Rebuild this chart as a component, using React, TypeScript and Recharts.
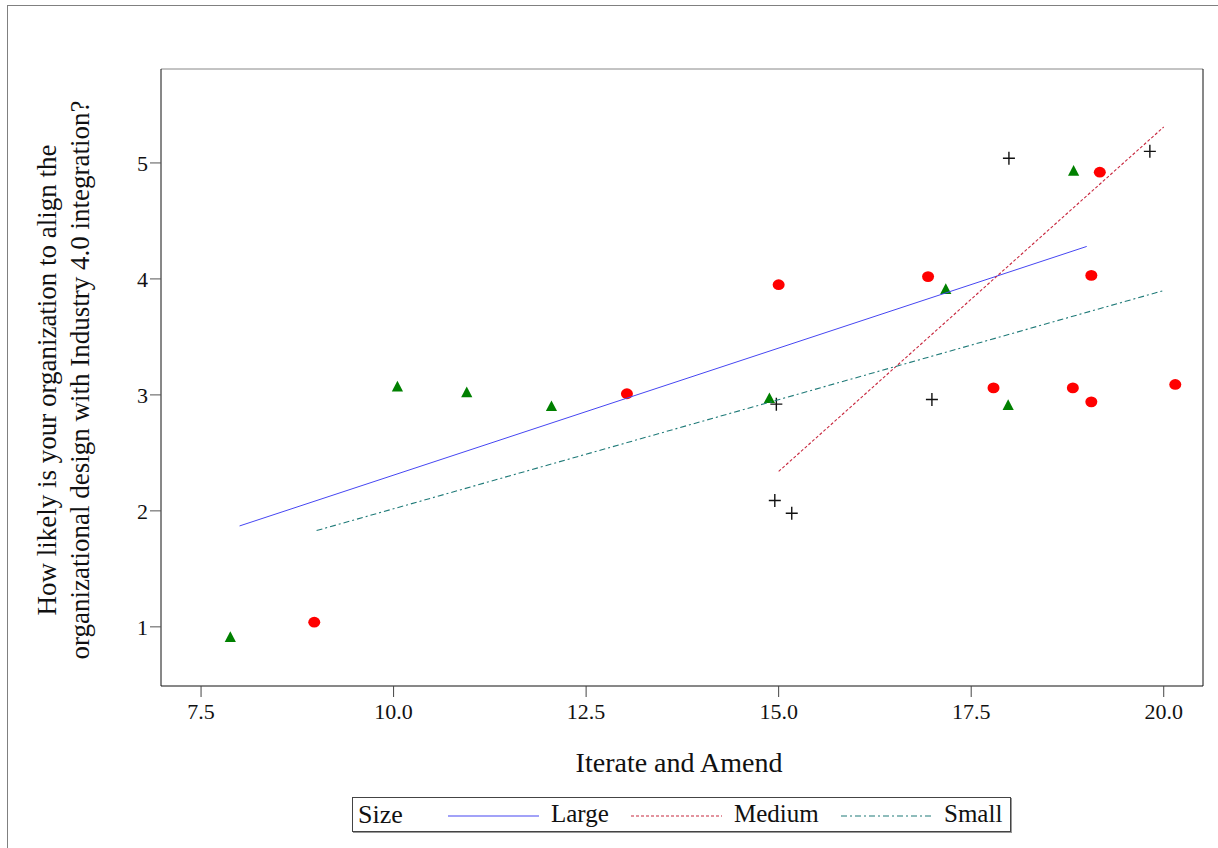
import { ScatterChart, Scatter, XAxis, YAxis, ReferenceLine } from 'recharts';

// axis setup
const X_MIN = 6.98;
const X_MAX = 20.51;
const Y_MIN = 0.49;
const Y_MAX = 5.81;
const X_TICKS = [7.5, 10, 12.5, 15, 17.5, 20];
const Y_TICKS = [1, 2, 3, 4, 5];

// observed points (jittered) by company size
const largeX = [7.88, 10.05, 10.95, 12.05, 14.88, 17.17, 17.98, 18.83];
const largeY = [0.91, 3.07, 3.02, 2.9, 2.97, 3.91, 2.91, 4.93];

const mediumX = [14.97, 14.95, 15.17, 16.99, 17.99, 19.82];
const mediumY = [2.92, 2.09, 1.98, 2.96, 5.04, 5.1];

const smallX = [8.97, 13.03, 15.0, 16.94, 17.79, 18.82, 19.06, 19.06, 19.17, 20.15];
const smallY = [1.04, 3.01, 3.95, 4.02, 3.06, 3.06, 4.03, 2.94, 4.92, 3.09];

// fitted regression lines
const largeFitX = [8, 19];
const largeFitY = [1.87, 4.28];
const mediumFitX = [15, 20];
const mediumFitY = [2.34, 5.31];
const smallFitX = [9, 20];
const smallFitY = [1.83, 3.9];

const zip = (xs: number[], ys: number[]) => xs.map((x, i) => ({ x, y: ys[i] }));

const FONT = '"Liberation Serif", "Times New Roman", serif';

const COLORS = {
  large: '#4646f2',
  medium: '#c8283f',
  small: '#1f7a78',
};

const Triangle = (p: any) => (
  <polygon
    points={`${p.cx},${p.cy - 6} ${p.cx - 5.6},${p.cy + 4.6} ${p.cx + 5.6},${p.cy + 4.6}`}
    fill="#008000"
  />
);

const Dot = (p: any) => <ellipse cx={p.cx} cy={p.cy} rx={6} ry={5.4} fill="#ff0000" />;

const Plus = (p: any) => (
  <path
    d={`M${p.cx - 6},${p.cy}H${p.cx + 6}M${p.cx},${p.cy - 6.5}V${p.cy + 6.5}`}
    stroke="#111"
    strokeWidth={1.4}
    fill="none"
  />
);

const NoShape = () => <g />;

const XTick = (p: any) => (
  <text x={p.x} y={p.y + 20} textAnchor="middle" fontFamily={FONT} fontSize={22} fill="#111">
    {Number(p.payload.value).toFixed(1)}
  </text>
);

const YTick = (p: any) => (
  <text x={p.x} y={p.y + 8} textAnchor="end" fontFamily={FONT} fontSize={22} fill="#111">
    {p.payload.value}
  </text>
);

const XTitle = (p: any) => {
  const vb = p.viewBox;
  return (
    <text x={vb.x + vb.width / 2 - 3} y={vb.y + 86} textAnchor="middle" fontFamily={FONT} fontSize={28} fill="#111">
      Iterate and Amend
    </text>
  );
};

const YTitle = () => {
  const cy = 380;
  return (
    <g fontFamily={FONT} fontSize={27} fill="#111">
      <text x={47} y={cy} textAnchor="middle" dominantBaseline="central" transform={`rotate(-90, 47, ${cy})`}>
        How likely is your organization to align the
      </text>
      <text x={80} y={cy} textAnchor="middle" dominantBaseline="central" transform={`rotate(-90, 80, ${cy})`}>
        organizational design with Industry 4.0 integration?
      </text>
    </g>
  );
};

const legendItems = [
  { label: 'Large', color: COLORS.large, dash: undefined, left: 95 },
  { label: 'Medium', color: COLORS.medium, dash: '3 2', left: 278 },
  { label: 'Small', color: COLORS.small, dash: '6 3 2 3', left: 488 },
];

function LegendBox() {
  return (
    <div
      style={{
        position: 'absolute',
        left: 352,
        top: 797,
        width: 657,
        height: 33,
        border: '1px solid #444',
        boxShadow: '1px 1px 0 #999',
        fontFamily: FONT,
        fontSize: 25,
        color: '#111',
        background: '#fff',
      }}
    >
      <span style={{ position: 'absolute', left: 5, top: 2, fontSize: 26 }}>Size</span>
      {legendItems.map((it) => (
        <div key={it.label} style={{ position: 'absolute', left: it.left, top: 0, height: 33 }}>
          <svg width={92} height={33} style={{ position: 'absolute', left: 0, top: 0 }}>
            <line x1={0} y1={18} x2={91} y2={18} stroke={it.color} strokeWidth={1.2} strokeDasharray={it.dash} />
          </svg>
          <span style={{ position: 'absolute', left: 103, top: 2, whiteSpace: 'nowrap' }}>{it.label}</span>
        </div>
      ))}
    </div>
  );
}

export default function App() {
  return (
    <div style={{ position: 'fixed', left: 0, top: 0, width: 1218, height: 848, background: '#fff', overflow: 'hidden' }}>
      <div
        style={{
          position: 'absolute',
          left: 7,
          top: 5,
          width: 1230,
          height: 860,
          borderTop: '1px solid #808080',
          borderLeft: '1px solid #808080',
        }}
      />
      <div style={{ position: 'absolute', left: 0, top: 0 }}>
        <ScatterChart width={1218} height={848} margin={{ top: 69, right: 15, bottom: 132, left: 101 }}>
          <XAxis
            type="number"
            dataKey="x"
            domain={[X_MIN, X_MAX]}
            ticks={X_TICKS}
            allowDataOverflow
            height={30}
            tickSize={11}
            tickLine={{ stroke: '#444' }}
            axisLine={{ stroke: '#111' }}
            tick={<XTick />}
            label={<XTitle />}
          />
          <YAxis
            type="number"
            dataKey="y"
            domain={[Y_MIN, Y_MAX]}
            ticks={Y_TICKS}
            allowDataOverflow
            width={60}
            tickSize={11}
            tickLine={{ stroke: '#555' }}
            axisLine={{ stroke: '#111' }}
            tick={<YTick />}
            label={<YTitle />}
          />
          <ReferenceLine y={Y_MAX} stroke="#888" />
          <ReferenceLine x={X_MAX} stroke="#111" />
          <Scatter data={zip(largeX, largeY)} shape={<Triangle />} isAnimationActive={false} />
          <Scatter data={zip(smallX, smallY)} shape={<Dot />} isAnimationActive={false} />
          <Scatter data={zip(mediumX, mediumY)} shape={<Plus />} isAnimationActive={false} />
          <Scatter
            data={zip(largeFitX, largeFitY)}
            shape={<NoShape />}
            line={{ stroke: COLORS.large, strokeWidth: 1 }}
            isAnimationActive={false}
          />
          <Scatter
            data={zip(mediumFitX, mediumFitY)}
            shape={<NoShape />}
            line={{ stroke: COLORS.medium, strokeWidth: 1.1, strokeDasharray: '3 2' }}
            isAnimationActive={false}
          />
          <Scatter
            data={zip(smallFitX, smallFitY)}
            shape={<NoShape />}
            line={{ stroke: COLORS.small, strokeWidth: 1.1, strokeDasharray: '6 3 2 3' }}
            isAnimationActive={false}
          />
        </ScatterChart>
      </div>
      <LegendBox />
    </div>
  );
}
